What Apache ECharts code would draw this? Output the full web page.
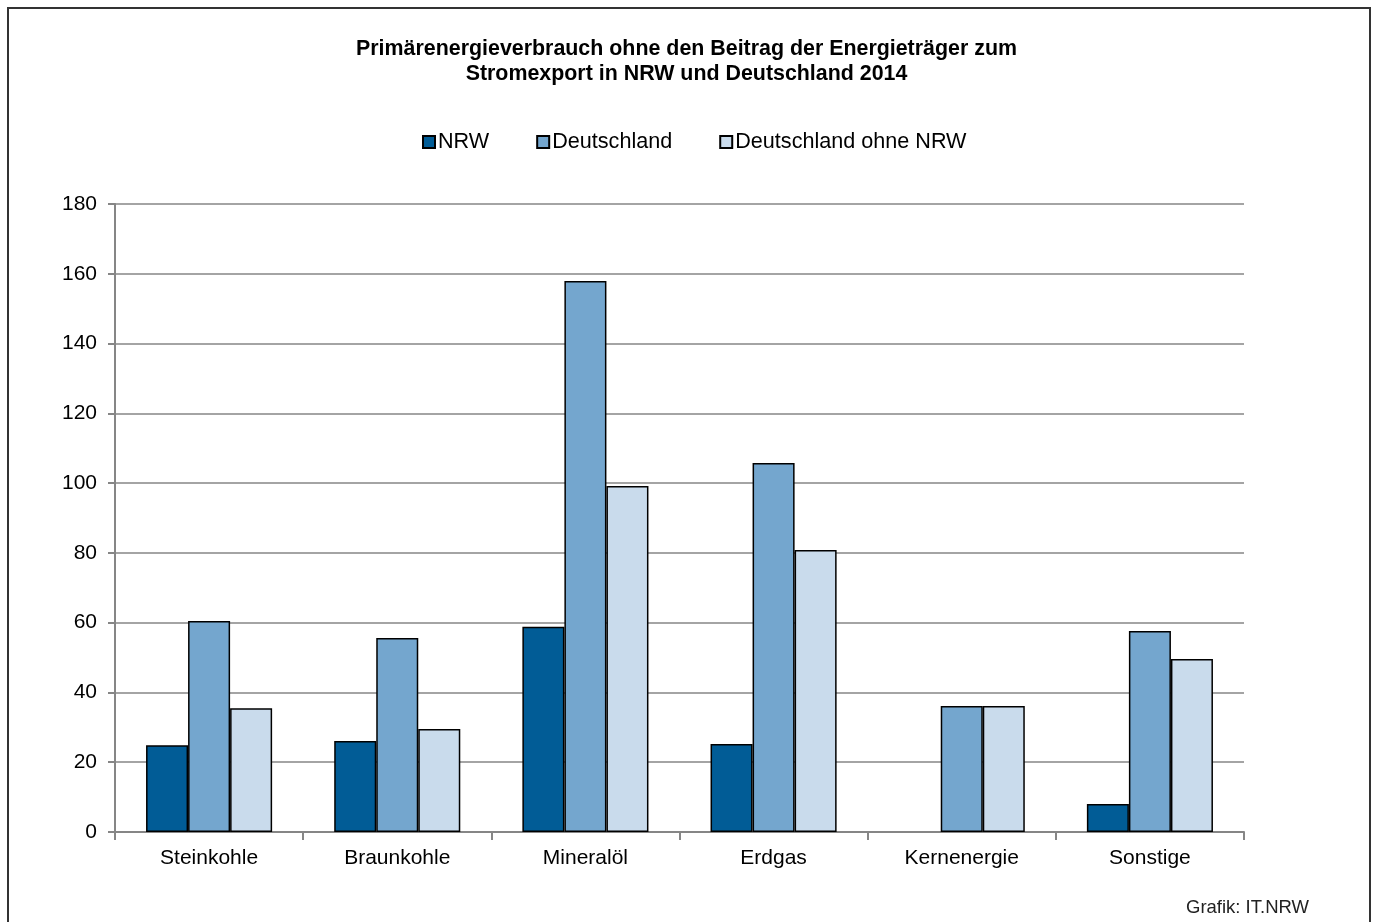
<!DOCTYPE html>
<html>
<head>
<meta charset="utf-8">
<script src="https://cdn.jsdelivr.net/npm/echarts@6/dist/echarts.min.js"></script>
<style>
html, body { margin: 0; padding: 0; background: #fff; }
#chart { width: 1373px; height: 922px; }
</style>
</head>
<body>
<div id="chart"></div>
<script>
// Primärenergieverbrauch 2014 by energy carrier
const categories = ['Steinkohle', 'Braunkohle', 'Mineralöl', 'Erdgas', 'Kernenergie', 'Sonstige'];
const nrw = [24.9, 26.1, 58.8, 25.2, 0, 8.0];
const deutschland = [60.5, 55.6, 157.9, 105.8, 36.1, 57.6];
const deutschlandOhneNrw = [35.5, 29.5, 99.2, 80.8, 36.1, 49.6];
const yTicks = [0, 20, 40, 60, 80, 100, 120, 140, 160, 180];

const FONT = '"Liberation Sans", Arial, sans-serif';

const chart = echarts.init(document.getElementById('chart'), null, { renderer: 'canvas' });

function barSeries(name, data, color) {
  return {
    name: name,
    type: 'bar',
    // a zero value gets no outline so no stray line sits on the axis
    data: data.map(v => v === 0 ? { value: v, itemStyle: { borderWidth: 0 } } : v),
    barGap: '0%',
    barCategoryGap: '33%',
    itemStyle: { color: color, borderColor: '#000', borderWidth: 1.5 },
    emphasis: { disabled: true }
  };
}

chart.setOption({
  backgroundColor: '#fff',
  animation: false,
  title: {
    text: 'Primärenergieverbrauch ohne den Beitrag der Energieträger zum\nStromexport in NRW und Deutschland 2014',
    left: 'center',
    top: 32,
    textStyle: { fontFamily: FONT, fontSize: 21.4, fontWeight: 'bold', color: '#000', lineHeight: 25 }
  },
  legend: {
    top: 126,
    left: 417,
    itemWidth: 12,
    itemHeight: 12,
    itemGap: 47,
    icon: 'rect',
    textStyle: { fontFamily: FONT, fontSize: 21.6, color: '#000', padding: [0, 0, 0, -2] },
    data: ['NRW', 'Deutschland', 'Deutschland ohne NRW']
  },
  grid: { left: 115, right: 129, top: 204, bottom: 90, containLabel: false },
  xAxis: {
    type: 'category',
    data: categories,
    axisLine: { lineStyle: { color: '#868686', width: 2 } },
    axisTick: { show: true, length: 8, lineStyle: { color: '#868686', width: 2 } },
    axisLabel: { fontFamily: FONT, fontSize: 21, color: '#000', margin: 16 }
  },
  yAxis: {
    type: 'value',
    min: yTicks[0],
    max: yTicks[yTicks.length - 1],
    interval: 20,
    axisLine: { show: true, lineStyle: { color: '#868686', width: 2 } },
    axisTick: { show: true, length: 7, lineStyle: { color: '#868686', width: 2 } },
    axisLabel: { fontFamily: FONT, fontSize: 21, color: '#000', margin: 18 },
    splitLine: { lineStyle: { color: '#868686', width: 1.5 } }
  },
  series: [
    barSeries('NRW', nrw, '#015c96'),
    barSeries('Deutschland', deutschland, '#74a6ce'),
    barSeries('Deutschland ohne NRW', deutschlandOhneNrw, '#c9dbec')
  ],
  graphic: [
    {
      type: 'rect',
      shape: { x: 8, y: 8, width: 1362, height: 930 },
      style: { fill: 'none', stroke: '#333', lineWidth: 2 },
      silent: true
    },
    {
      type: 'text',
      right: 64,
      top: 898,
      style: { text: 'Grafik: IT.NRW', font: '18.5px "Liberation Sans", Arial, sans-serif', fill: '#222' }
    }
  ]
});
</script>
</body>
</html>
